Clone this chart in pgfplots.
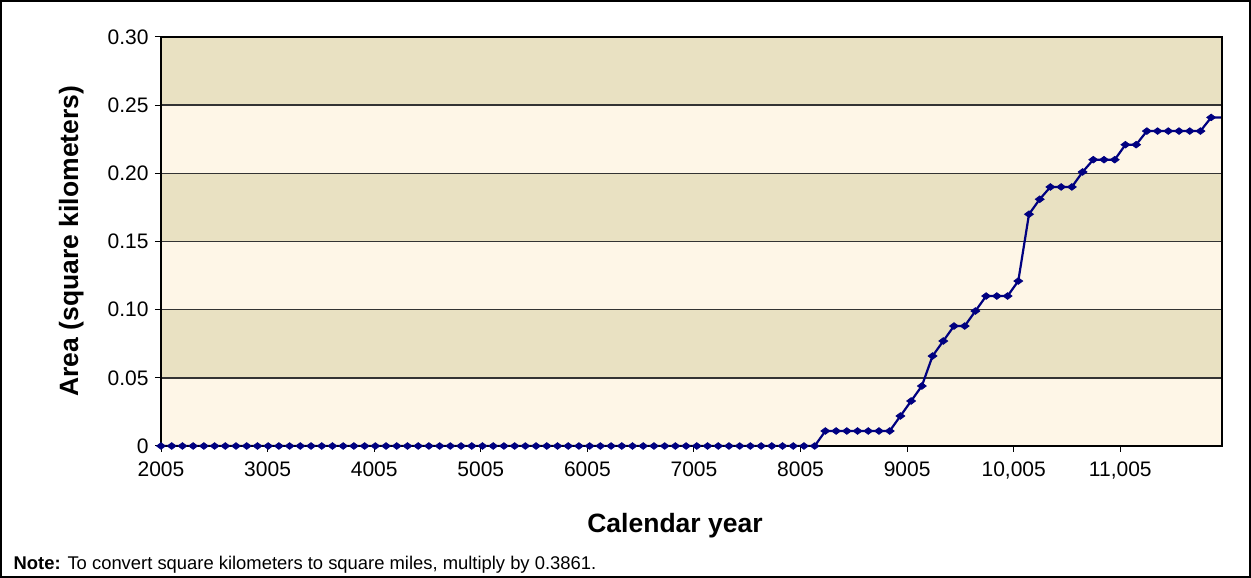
\documentclass[border=0pt]{standalone}
\usepackage{fontspec}
\setmainfont{Liberation Sans}
\usepackage{pgfplots}
\pgfplotsset{compat=1.18}
\usepackage{pgfplotstable}
\definecolor{bandDark}{RGB}{233,225,194}
\definecolor{bandLight}{RGB}{254,246,231}
\definecolor{lineNavy}{RGB}{0,0,128}
\pgfplotstableread{
year area
2005 0
2105 0
2205 0
2305 0
2405 0
2505 0
2605 0
2705 0
2805 0
2905 0
3005 0
3105 0
3205 0
3305 0
3405 0
3505 0
3605 0
3705 0
3805 0
3905 0
4005 0
4105 0
4205 0
4305 0
4405 0
4505 0
4605 0
4705 0
4805 0
4905 0
5005 0
5105 0
5205 0
5305 0
5405 0
5505 0
5605 0
5705 0
5805 0
5905 0
6005 0
6105 0
6205 0
6305 0
6405 0
6505 0
6605 0
6705 0
6805 0
6905 0
7005 0
7105 0
7205 0
7305 0
7405 0
7505 0
7605 0
7705 0
7805 0
7905 0
8005 0
8105 0
8205 0.011
8305 0.011
8405 0.011
8505 0.011
8605 0.011
8705 0.011
8805 0.011
8905 0.022
9005 0.033
9105 0.044
9205 0.066
9305 0.077
9405 0.088
9505 0.088
9605 0.099
9705 0.110
9805 0.110
9905 0.110
10005 0.121
10105 0.170
10205 0.181
10305 0.190
10405 0.190
10505 0.190
10605 0.201
10705 0.210
10805 0.210
10905 0.210
11005 0.221
11105 0.221
11205 0.231
11305 0.231
11405 0.231
11505 0.231
11605 0.231
11705 0.231
11805 0.241
11905 0.241
}\areadata
\begin{document}
\begin{tikzpicture}
\useasboundingbox (0pt,0pt) rectangle (1251pt,578pt);
\draw[line width=2pt] (1pt,1pt) rectangle (1250pt,577pt);
\begin{axis}[
  scale only axis, width=1061pt, height=409pt,
  at={(161pt,132pt)}, anchor=south west,
  xmin=2005, xmax=11905, ymin=0, ymax=0.30,
  scaled x ticks=false, scaled y ticks=false,
  xtick={2005,2999.7,3994.4,4989.1,5983.8,6978.5,7973.2,8967.9,9962.6,10957.3},
  xticklabels={2005,3005,4005,5005,6005,7005,8005,9005,{10,005},{11,005}},
  ytick={0,0.05,0.10,0.15,0.20,0.25,0.30},
  yticklabels={0,0.05,0.10,0.15,0.20,0.25,0.30},
  tick align=outside, xtick pos=bottom, ytick pos=left,
  major tick length=6pt,
  tick style={black, line width=1pt},
  axis on top,
  axis background/.style={fill=bandLight},
  axis line style={black, line width=2pt},
  ticklabel style={font=\fontsize{21}{25}\selectfont},
  xticklabel style={yshift=-6pt},
  yticklabel style={xshift=-3pt},
  /pgf/number format/assume math mode=true,
  xlabel={Calendar year},
  ylabel={Area (square kilometers)},
  xlabel style={font=\bfseries\fontsize{26.5}{30}\selectfont, at={(axis description cs:0.4845,-0.2103)}, anchor=base},
  ylabel style={font=\bfseries\fontsize{26.5}{30}\selectfont, at={(axis description cs:-0.0782,0.501)}, anchor=base},
]
\fill[bandDark] (axis cs:2005,0.05) rectangle (axis cs:11905,0.10);
\fill[bandDark] (axis cs:2005,0.15) rectangle (axis cs:11905,0.20);
\fill[bandDark] (axis cs:2005,0.25) rectangle (axis cs:11905,0.30);
\draw[black!80, line width=1.4pt] (axis cs:2005,0.05) -- (axis cs:11905,0.05);
\draw[black!80, line width=1.4pt] (axis cs:2005,0.10) -- (axis cs:11905,0.10);
\draw[black!80, line width=1.4pt] (axis cs:2005,0.15) -- (axis cs:11905,0.15);
\draw[black!80, line width=1.4pt] (axis cs:2005,0.20) -- (axis cs:11905,0.20);
\draw[black!80, line width=1.4pt] (axis cs:2005,0.25) -- (axis cs:11905,0.25);
\addplot[lineNavy, line width=2.2pt, mark=diamond*, mark size=4.4pt,
  mark indices={1,...,99},
  mark options={rotate=90, fill=lineNavy, draw=lineNavy, line width=0.8pt}]
  table[x=year, y=area] {\areadata};
\end{axis}
\node[anchor=base west, inner sep=0pt, font=\fontsize{18.4}{21}\selectfont] at (13.5pt,8.7pt) {\textbf{Note:} To convert square kilometers to square miles, multiply by 0.3861.};
\end{tikzpicture}
\end{document}
